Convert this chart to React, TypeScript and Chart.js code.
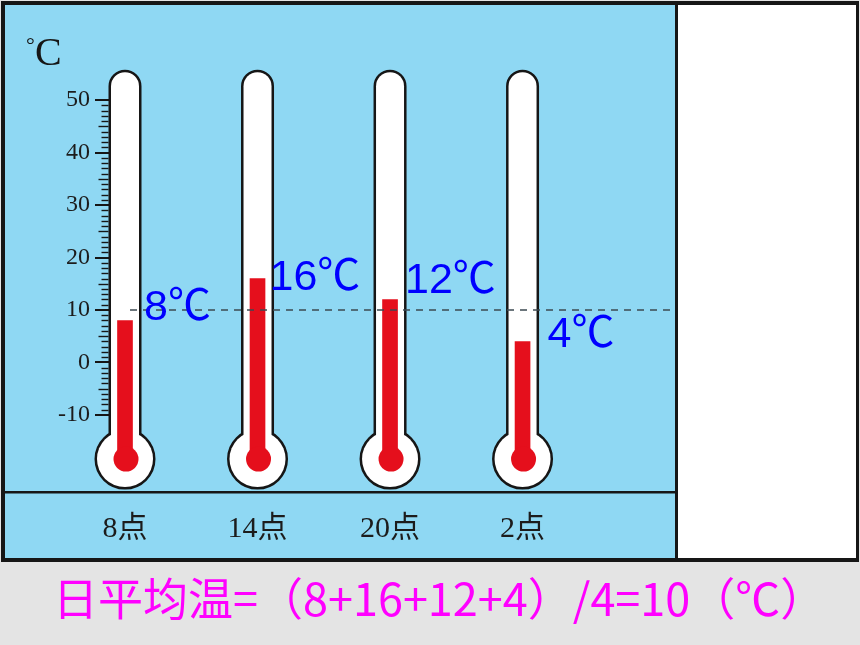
import React, { useEffect, useRef } from 'react';
import { Chart, registerables } from 'chart.js';

Chart.register(...registerables);

// ---- data ----
const categories = ['8点', '14点', '20点', '2点'];
const temperatures = [8, 16, 12, 4];
const yTickValues = [50, 40, 30, 20, 10, 0, -10];
const averageTemp = 10;
const unitSuffix = '℃';
const formulaText = '日平均温=（8+16+12+4）/4=10（℃）';

// ---- scale ranges / thermometer geometry (in data units) ----
const Y_MIN = -24.67;
const Y_MAX = 68.1;
const X_MIN = -0.1208;
const X_MAX = 4.158;
const TUBE_TOP = 55.3;
const BULB_VALUE = -18.4;
const RULER_MIN = -10;
const RULER_MAX = 50;

// label offsets (pixels) relative to thermometer centre / mercury top
const labelDx = [19, 12, 15, 25];
const labelDy = [0, 11.5, -6.5, 5.5];

const RED = '#e50f1c';
const INK = '#161616';

const zeroPad = (s: any) => {
  s.paddingTop = 0;
  s.paddingBottom = 0;
  s.paddingLeft = 0;
  s.paddingRight = 0;
};

const thermoPlugin = {
  id: 'thermo',
  beforeDraw(chart: any) {
    const ctx = chart.ctx;
    const ca = chart.chartArea;
    ctx.save();
    ctx.fillStyle = '#e4e4e4';
    ctx.fillRect(0, 0, 860, 645);
    ctx.fillStyle = INK;
    ctx.fillRect(1, 1, 858, 561);
    ctx.fillStyle = '#8fd8f3';
    ctx.fillRect(5, 5, 670, 553);
    ctx.fillStyle = '#ffffff';
    ctx.fillRect(678, 5, 178, 553);
    // base line
    ctx.fillStyle = INK;
    ctx.fillRect(5, ca.bottom - 1, 670, 2.5);
    // unit title
    ctx.fillStyle = INK;
    ctx.textBaseline = 'alphabetic';
    ctx.textAlign = 'left';
    ctx.font = "22px 'Liberation Serif', serif";
    ctx.fillText('°', 26, 52);
    ctx.font = "40px 'Liberation Serif', serif";
    ctx.fillText('C', 35, 65);
    ctx.restore();
  },
  beforeDatasetsDraw(chart: any) {
    const ctx = chart.ctx;
    const xs = chart.scales.x;
    const ys = chart.scales.y;
    const topPx = ys.getPixelForValue(TUBE_TOP);
    const bulbPx = ys.getPixelForValue(BULB_VALUE);
    const hw = 14;
    const br = 28;
    ctx.save();
    categories.forEach((_, i) => {
      const cx = xs.getPixelForValue(i);
      const path = new Path2D();
      path.moveTo(cx - hw, bulbPx);
      path.lineTo(cx - hw, topPx + hw);
      path.arc(cx, topPx + hw, hw, Math.PI, 0);
      path.lineTo(cx + hw, bulbPx);
      path.closePath();
      const bulb = new Path2D();
      bulb.arc(cx, bulbPx, br, 0, Math.PI * 2);
      ctx.strokeStyle = INK;
      ctx.lineWidth = 5;
      ctx.stroke(path);
      ctx.stroke(bulb);
      ctx.fillStyle = '#ffffff';
      ctx.fill(path);
      ctx.fill(bulb);
    });
    // ruler minor ticks on first thermometer
    const edge = xs.getPixelForValue(0) - hw - 2.5;
    ctx.strokeStyle = INK;
    ctx.lineWidth = 1.4;
    for (let v = RULER_MIN; v <= RULER_MAX; v++) {
      if (v % 10 === 0) continue;
      const len = v % 5 === 0 ? 10 : 7;
      const py = Math.round(ys.getPixelForValue(v)) + 0.5;
      ctx.beginPath();
      ctx.moveTo(edge - len, py);
      ctx.lineTo(edge, py);
      ctx.stroke();
    }
    ctx.restore();
  },
  afterDatasetsDraw(chart: any) {
    const ctx = chart.ctx;
    const xs = chart.scales.x;
    const ys = chart.scales.y;
    const ca = chart.chartArea;
    const bulbPx = ys.getPixelForValue(BULB_VALUE);
    ctx.save();
    categories.forEach((_, i) => {
      const cx = xs.getPixelForValue(i);
      ctx.fillStyle = RED;
      ctx.beginPath();
      ctx.arc(cx + 1, bulbPx, 12.5, 0, Math.PI * 2);
      ctx.fill();
    });
    // average dashed line
    const ay = ys.getPixelForValue(averageTemp);
    ctx.strokeStyle = '#3d4a52';
    ctx.lineWidth = 1.6;
    ctx.setLineDash([7, 6]);
    ctx.beginPath();
    ctx.moveTo(xs.getPixelForValue(0) + 5, ay);
    ctx.lineTo(ca.right, ay);
    ctx.stroke();
    ctx.setLineDash([]);
    // value labels
    ctx.fillStyle = '#0000ff';
    ctx.font = "43px 'Liberation Sans', 'Noto Sans CJK SC', sans-serif";
    ctx.textAlign = 'left';
    ctx.textBaseline = 'alphabetic';
    temperatures.forEach((t, i) => {
      const cx = xs.getPixelForValue(i);
      ctx.fillText(`${t}${unitSuffix}`, cx + labelDx[i], ys.getPixelForValue(t) + labelDy[i]);
    });
    ctx.restore();
  },
  afterDraw(chart: any) {
    const ctx = chart.ctx;
    ctx.save();
    ctx.fillStyle = '#ff00ff';
    ctx.font = "45px 'Noto Sans CJK SC', sans-serif";
    ctx.textAlign = 'left';
    ctx.textBaseline = 'middle';
    ctx.fillText(formulaText, 53, 599);
    ctx.restore();
  },
};

export default function App() {
  const ref = useRef<HTMLCanvasElement | null>(null);
  useEffect(() => {
    if (!ref.current) return;
    const chart = new Chart(ref.current, {
      type: 'bar',
      data: {
        datasets: [
          {
            data: temperatures.map((t, i) => ({ x: i, y: [BULB_VALUE, t] })) as any,
            backgroundColor: RED,
            borderWidth: 0,
            barThickness: 15,
          },
        ],
      },
      options: {
        animation: false,
        responsive: false,
        devicePixelRatio: 1,
        events: [],
        layout: { padding: { top: 5, right: 184, left: 0, bottom: 0 } },
        plugins: { legend: { display: false }, tooltip: { enabled: false }, title: { display: false } },
        scales: {
          x: {
            type: 'linear',
            offset: false,
            min: X_MIN,
            max: X_MAX,
            grid: { display: false, drawTicks: false, offset: false },
            border: { display: false },
            afterBuildTicks: (s: any) => {
              s.ticks = categories.map((_, i) => ({ value: i }));
            },
            afterFit: (s: any) => {
              s.height = 153;
              zeroPad(s);
            },
            ticks: {
              autoSkip: false,
              maxRotation: 0,
              padding: 19,
              color: '#1c1c1c',
              font: { size: 30, family: "'Liberation Serif', 'Noto Sans CJK SC', serif" },
              callback: (v: any) => categories[Math.round(v)] ?? '',
            },
          },
          y: {
            type: 'linear',
            min: Y_MIN,
            max: Y_MAX,
            grid: { drawOnChartArea: false, drawTicks: true, tickLength: 14, color: INK, lineWidth: 2 },
            border: { display: false },
            afterBuildTicks: (s: any) => {
              s.ticks = yTickValues.map((v) => ({ value: v }));
            },
            afterFit: (s: any) => {
              s.width = 109;
              zeroPad(s);
            },
            ticks: {
              autoSkip: false,
              padding: 5,
              color: '#1c1c1c',
              font: { size: 24, family: "'Liberation Serif', serif" },
              callback: (v: any) => String(v),
            },
          },
        },
      } as any,
      plugins: [thermoPlugin],
    });
    return () => chart.destroy();
  }, []);
  return (
    <div style={{ position: 'fixed', left: 0, top: 0, width: 860, height: 645 }}>
      <canvas ref={ref} width={860} height={645} style={{ display: 'block' }} />
    </div>
  );
}
